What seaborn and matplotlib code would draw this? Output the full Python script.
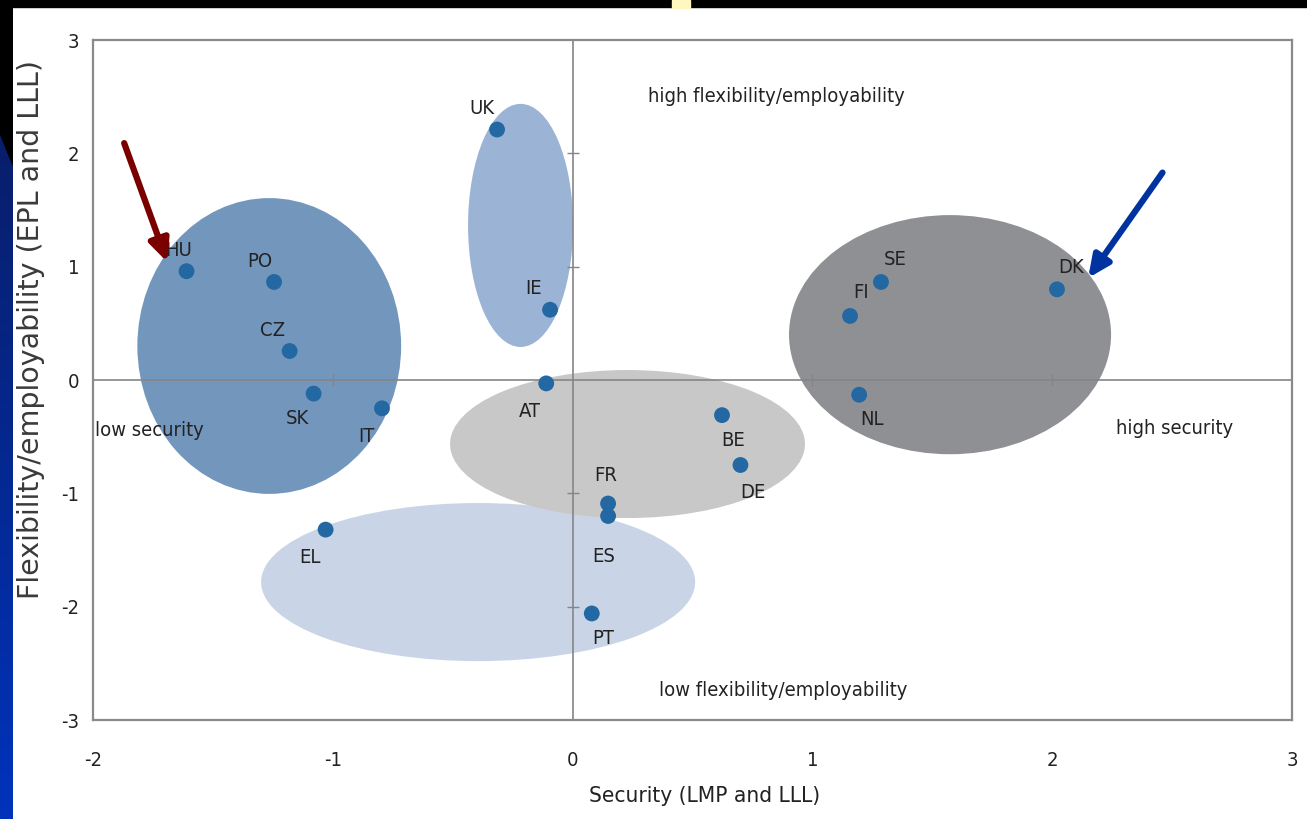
import numpy as np
import pandas as pd
import matplotlib
matplotlib.use("Agg")
import matplotlib.pyplot as plt
import seaborn as sns
from matplotlib import font_manager
from matplotlib.patches import Ellipse, Polygon, Rectangle

# flexicurity map: security vs flexibility/employability by country
countries = ["HU", "PO", "CZ", "SK", "IT", "UK", "IE", "AT", "BE", "DE",
             "FR", "ES", "EL", "PT", "FI", "SE", "DK", "NL"]
security = [-1.61, -1.245, -1.18, -1.08, -0.795, -0.315, -0.094, -0.11, 0.623, 0.70,
            0.148, 0.148, -1.03, 0.08, 1.157, 1.286, 2.02, 1.195]
flexibility = [0.96, 0.865, 0.256, -0.12, -0.25, 2.21, 0.62, -0.03, -0.31, -0.75,
               -1.09, -1.20, -1.32, -2.06, 0.565, 0.865, 0.80, -0.13]
# label offsets in points (dx, dy)
label_dx = [-6, -10, -12, -12, -11, -11, -12, -12, 8, 9, -2, -3, -11, 8, 8, 10, 10, 9]
label_dy = [15, 15, 15, -18, -20, 15, 15, -20, -18, -20, 20, -29, -20, -18, 17, 16, 16, -18]

# cluster ellipses: centre x, centre y, width, height, colour
ell_x = [-0.394, 0.229, -1.265, -0.217, 1.574]
ell_y = [-1.783, -0.565, 0.30, 1.364, 0.40]
ell_w = [1.81, 1.48, 1.10, 0.438, 1.343]
ell_h = [1.395, 1.306, 2.61, 2.145, 2.11]
ell_c = ["#c9d5e7", "#c8c8c9", "#7396bd", "#9bb3d4", "#8f9093"]

quad_labels = ["high flexibility/employability", "low flexibility/employability",
               "low security", "high security"]
quad_x = [0.85, 0.88, -1.99, 2.51]
quad_y = [2.5, -2.74, -0.45, -0.43]
quad_ha = ["center", "center", "left", "center"]

x_ticks = [-2, -1, 0, 1, 2, 3]
y_ticks = [-3, -2, -1, 0, 1, 2, 3]

arrow_tail = [(-1.87, 2.09), (2.46, 1.83)]
arrow_head = [(-1.69, 1.04), (2.15, 0.90)]
arrow_col = ["#7a0000", "#0033a0"]

sns.set_style("white")
# the chart uses a narrow font; take one if there is one
names = {f.name for f in font_manager.fontManager.ttflist}
narrow = [f.name for f in font_manager.fontManager.ttflist
          if f.stretch in ("condensed", "semi-condensed", "extra-condensed") or "Narrow" in f.name]
if "Liberation Sans Narrow" in names:
    plt.rcParams["font.family"] = ["Liberation Sans Narrow", "DejaVu Sans"]
else:
    plt.rcParams["font.family"] = ["DejaVu Sans"]
    if narrow:
        plt.rcParams["font.stretch"] = "condensed"
plt.rcParams["axes.unicode_minus"] = False

fig = plt.figure(figsize=(13.07, 8.19), dpi=100)

# slide decoration: left gradient strip and top black band
strip = fig.add_axes([0, 0, 13 / 1307, 1])
grad = np.linspace(0, 1, 256).reshape(-1, 1)
cmap = matplotlib.colors.LinearSegmentedColormap.from_list("slide", ["#0a1a5a", "#0033bb"])
strip.imshow(grad, aspect="auto", cmap=cmap, extent=[0, 1, 0, 1], origin="upper")
strip.add_patch(Polygon([(0, 1), (1, 1), (1, 1 - 165 / 819), (0, 1 - 133 / 819)],
                        closed=True, color="black"))
strip.set_xlim(0, 1)
strip.set_ylim(0, 1)
strip.axis("off")
fig.patches.append(Rectangle((0, 1 - 7 / 819), 1, 7 / 819, transform=fig.transFigure,
                             color="black", zorder=5))
fig.patches.append(Rectangle((672 / 1307, 1 - 8 / 819), 18 / 1307, 8 / 819,
                             transform=fig.transFigure, color="#fff7c0", zorder=6))

ax = fig.add_axes([93 / 1307, 1 - 720 / 819, 1199 / 1307, 680 / 819])

for cx, cy, w, h, c in zip(ell_x, ell_y, ell_w, ell_h, ell_c):
    ax.add_patch(Ellipse((cx, cy), w, h, color=c, lw=0, zorder=1))

ax.axhline(0, color="#858585", lw=1.2, zorder=2)
ax.axvline(0, color="#858585", lw=1.2, zorder=2)
ax.plot([t for t in x_ticks if t not in (0, -2, 3)], [0] * 3, ls="none", marker="|",
        ms=9, mew=1, color="#858585", zorder=2)
ax.plot([0] * 4, [t for t in y_ticks if t in (-2, -1, 1, 2)], ls="none", marker="_",
        ms=9, mew=1, color="#858585", zorder=2)

df = pd.DataFrame({"security": security, "flexibility": flexibility, "country": countries})
sns.scatterplot(data=df, x="security", y="flexibility", ax=ax, color="#2368a2",
                s=130, edgecolor="none", zorder=3, legend=False)

for name, x, y, dx, dy in zip(countries, security, flexibility, label_dx, label_dy):
    ax.annotate(name, (x, y), xytext=(dx, dy), textcoords="offset points",
                ha="center", va="center", fontsize=14.5, color="#222222", zorder=4)

for t, x, y, ha in zip(quad_labels, quad_x, quad_y, quad_ha):
    ax.text(x, y, t, ha=ha, va="center", fontsize=14.5, color="#222222", zorder=4)

for tail, head, c in zip(arrow_tail, arrow_head, arrow_col):
    ax.annotate("", xy=head, xytext=tail, zorder=5,
                arrowprops=dict(arrowstyle="-|>,head_length=1.3,head_width=0.6",
                                color=c, lw=4.5, shrinkA=0, shrinkB=0))

ax.set_xlim(-2, 3)
ax.set_ylim(-3, 3)
ax.set_xticks(x_ticks)
ax.set_xticklabels([str(t) for t in x_ticks])
ax.set_yticks(y_ticks)
ax.set_yticklabels([str(t) for t in y_ticks])
ax.tick_params(axis="x", length=0, pad=22, labelsize=14.5, labelcolor="#222222")
ax.tick_params(axis="y", length=0, pad=10, labelsize=14.5, labelcolor="#222222")
for sp in ax.spines.values():
    sp.set_color("#8a8a8a")
    sp.set_linewidth(1.6)

ax.set_xlabel("Security (LMP and LLL)", fontsize=16.2, color="#222222")
ax.set_ylabel("Flexibility/employability (EPL and LLL)", fontsize=20.5, color="#3a3a3a",
              family=["DejaVu Sans"], stretch="normal")
ax.xaxis.set_label_coords(0.51, -0.097)
ax.yaxis.set_label_coords(-0.040, 0.574)

fig.savefig("out.png", dpi=100, facecolor="white")
